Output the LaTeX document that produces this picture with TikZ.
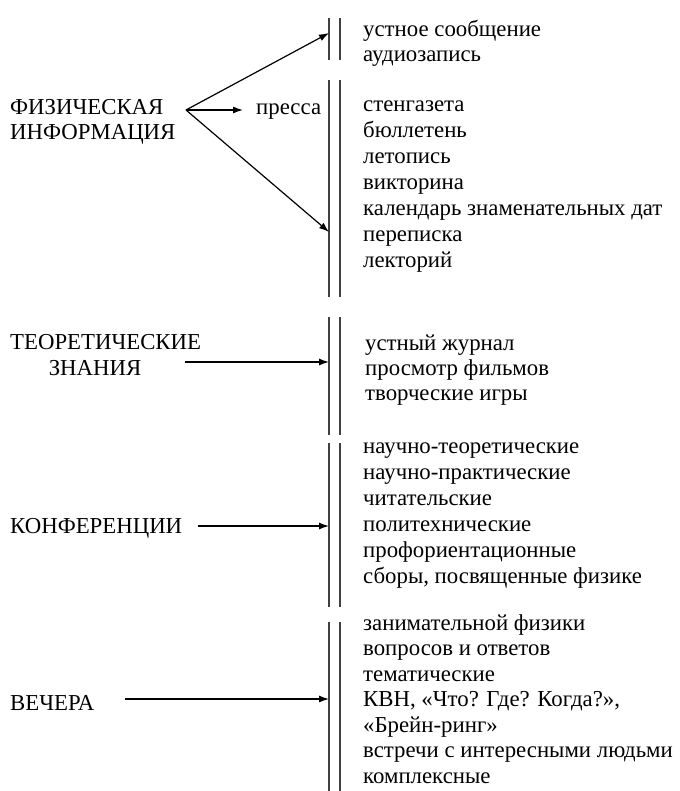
\documentclass[tikz,border=0pt]{standalone}
\usepackage{fontspec}
\setmainfont{Liberation Serif}
\usetikzlibrary{positioning,arrows.meta}

\begin{document}
\begin{tikzpicture}[x=1pt,y=-1pt,
    head/.style={inner sep=0pt,anchor=base west,font=\fontsize{22.8}{26}\selectfont},
    item/.style={inner sep=0pt,anchor=base west,font=\fontsize{22.8}{26}\selectfont},
    bar/.style={line width=1.3pt,black!75},
    arr/.style={line width=1.2pt,-{Latex[length=10pt,width=7pt]}}]
    \useasboundingbox (0,0) rectangle (679,791);

    % double bars
    \foreach \a/\b in {18/60, 80/297, 317/435, 443/607, 622/791} {
      \draw[bar] (329,\a) -- (329,\b);
      \draw[bar] (340,\a) -- (340,\b);
    }
    \coordinate (in1) at (329,33);
    \coordinate (in2) at (329,232);
    \coordinate (in3) at (329,362);
    \coordinate (in4) at (329,526);
    \coordinate (in5) at (329,699);

    % headings
    \node[head] (fiz1) at (10,115) {ФИЗИЧЕСКАЯ};
    \node[head] (fiz2) at (10,140) {ИНФОРМАЦИЯ};
    \node[head] (press) at (256,115) {пресса};
    \node[head] (teor1) at (10,349) {ТЕОРЕТИЧЕСКИЕ};
    \node[head,anchor=base] (teor2) at (95,375) {ЗНАНИЯ};
    \node[head] (konf) at (10,533) {КОНФЕРЕНЦИИ};
    \node[head] (vech) at (10,710) {ВЕЧЕРА};

    % lists
    \foreach \t [count=\i] in {устное сообщение, аудиозапись}
      \node[item] (ust\i) at (363,37+25*\i-25) {\t};
    \foreach \t [count=\i] in {стенгазета, бюллетень, летопись, викторина,
        календарь знаменательных дат, переписка, лекторий}
      \node[item] (pr\i) at (363,112+26*\i-26) {\t};
    \foreach \t [count=\i] in {устный журнал, просмотр фильмов, творческие игры}
      \node[item] (teo\i) at (365,350+25*\i-25) {\t};
    \foreach \t [count=\i] in {научно-теоретические, научно-практические,
        читательские, политехнические, профориентационные,
        {сборы, посвященные физике}}
      \node[item] (kon\i) at (363,453+26*\i-26) {\t};
    \foreach \t [count=\i] in {занимательной физики, вопросов и ответов,
        тематические, {КВН, «Что? Где? Когда?»,}, «Брейн-ринг»,
        встречи с интересными людьми, комплексные}
      \node[item] (ve\i) at (363,630+25.5*\i-25.5) {\t};

    % arrows
    \coordinate (fork) at (186,110);
    \draw[arr] (fork) -- (in1);
    \draw[arr] (fork) -- ([xshift=-13pt]press.west |- fork);
    \draw[arr] (fork) -- (in2);
    \draw[arr] ([xshift=-16pt]teor1.east |- in3) -- (in3);
    \draw[arr] ([xshift=16pt]konf.east |- in4) -- (in4);
    \draw[arr] ([xshift=30pt]vech.east |- in5) -- (in5);
\end{tikzpicture}
\end{document}
